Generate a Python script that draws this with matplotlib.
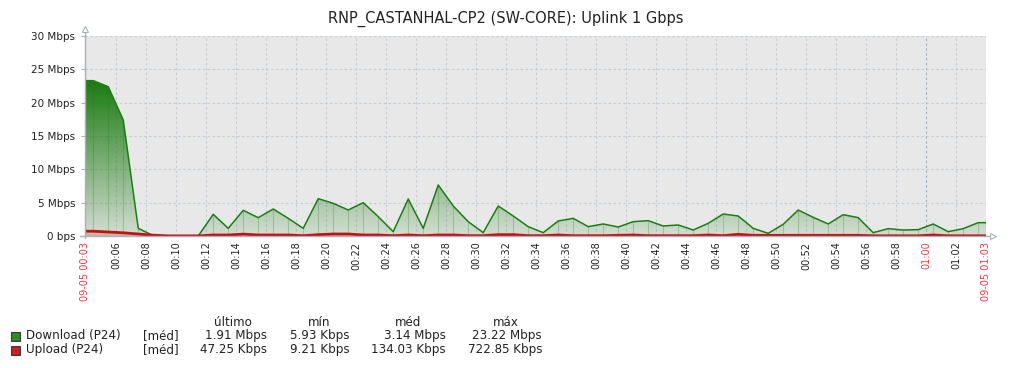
import numpy as np
import matplotlib.pyplot as plt
from matplotlib.patches import Rectangle

# time axis in minutes after 00:00 (09-05)
t_start = 3.9
t_end = 63.97
first_sample = 4.45

# Mbps, one sample per minute
download = [23.3, 22.4, 17.4, 1.15, 0.05, 0.0, 0.0, 0.0, 3.25, 1.15,
            3.85, 2.75, 4.05, 2.65, 1.15, 5.6, 4.9, 3.9, 5.0, 2.9,
            0.65, 5.55, 1.15, 7.65, 4.5, 2.15, 0.5, 4.5, 3.0, 1.4,
            0.5, 2.25, 2.65, 1.4, 1.8, 1.35, 2.15, 2.3, 1.5, 1.65,
            0.9, 1.9, 3.3, 3.0, 1.15, 0.4, 1.75, 3.9, 2.8, 1.8,
            3.2, 2.75, 0.5, 1.1, 0.9, 0.95, 1.8, 0.65, 1.1, 2.0]
upload = [0.72, 0.6, 0.48, 0.3, 0.12, 0.02, 0.02, 0.02, 0.15, 0.15,
          0.28, 0.15, 0.15, 0.15, 0.05, 0.2, 0.3, 0.3, 0.15, 0.15,
          0.05, 0.15, 0.05, 0.15, 0.15, 0.05, 0.05, 0.2, 0.2, 0.05,
          0.05, 0.15, 0.05, 0.05, 0.05, 0.1, 0.15, 0.05, 0.05, 0.05,
          0.05, 0.15, 0.05, 0.25, 0.1, 0.1, 0.1, 0.1, 0.1, 0.1,
          0.1, 0.1, 0.03, 0.03, 0.03, 0.03, 0.15, 0.03, 0.03, 0.03]

ytick_vals = [0, 5, 10, 15, 20, 25, 30]
ytick_labels = ['0 bps', '5 Mbps', '10 Mbps', '15 Mbps', '20 Mbps', '25 Mbps', '30 Mbps']

title = 'RNP_CASTANHAL-CP2 (SW-CORE): Uplink 1 Gbps'
legend_names = ['Download (P24)', 'Upload (P24)']
legend_cols = ['último', 'mín', 'méd', 'máx']
legend_vals = [['1.91 Mbps', '5.93 Kbps', '3.14 Mbps', '23.22 Mbps'],
               ['47.25 Kbps', '9.21 Kbps', '134.03 Kbps', '722.85 Kbps']]

green = '#1a7f10'
red = '#c4100f'
label_red = '#ee3b3f'
txt = '#222222'
axis_col = '#a9b2bb'
grid_col = '#c3ccd5'

W, H = 1016, 368
fig = plt.figure(figsize=(W / 100, H / 100), dpi=100)
ax = fig.add_axes([85 / W, (H - 236) / H, 901 / W, 200 / H])
ax.set_facecolor('#e8e8e8')

t = first_sample + np.arange(len(download))
tx = np.concatenate([[t_start], t, [t_end]])
dl = np.concatenate([[download[0]], download, [download[-1]]])
ul = np.concatenate([[upload[0]], upload, [upload[-1]]])

# gradient fill under download
poly = ax.fill_between(tx, dl, 0, facecolor='none', edgecolor='none')
top = max(download)
n = 256
grad = np.zeros((n, 1, 4))
grad[:, 0, 0] = 0.10
grad[:, 0, 1] = 0.48
grad[:, 0, 2] = 0.06
grad[:, 0, 3] = np.linspace(1.0, 0.1, n)
im = ax.imshow(grad, extent=[t_start, t_end, 0, top], aspect='auto',
               origin='upper', zorder=2, interpolation='bilinear')
im.set_clip_path(poly.get_paths()[0], transform=ax.transData)

ax.vlines(t, 0, download, color=green, alpha=0.25, lw=0.8, zorder=3)
ax.plot(tx, dl, color=green, lw=1.1, zorder=4)

ax.fill_between(tx, ul, 0, color='#cab3a7', lw=0, zorder=4)
ax.plot(tx, ul, color=red, lw=2.0, zorder=5, solid_capstyle='butt')

ax.set_xlim(t_start, t_end)
ax.set_ylim(0, 30)

# x ticks
xt = [t_start] + list(range(6, 63, 2)) + [t_end]
xl = ['09-05 00:03'] + ['%02d:%02d' % (m // 60, m % 60) for m in range(6, 63, 2)] + ['09-05 01:03']
ax.set_xticks(xt)
ax.set_xticklabels(xl, rotation=90, fontsize=7, color=txt, va='top', ha='center')
for lab in ax.get_xticklabels():
    if lab.get_text() in ('09-05 00:03', '01:00', '09-05 01:03'):
        lab.set_color(label_red)
ax.tick_params(axis='x', length=0, pad=4)

ax.set_yticks(ytick_vals)
ax.set_yticklabels(ytick_labels, fontsize=7.5, color=txt)
ax.tick_params(axis='y', length=3, color=axis_col, pad=4)

ax.grid(True, color=grid_col, linestyle=(0, (2.2, 2.2)), lw=0.8, zorder=1)
for tick_pos, gl in zip(xt, ax.get_xgridlines()):
    if tick_pos == 60:
        gl.set_color('#9fafbf')
ax.set_axisbelow(True)

for s in ax.spines.values():
    s.set_visible(False)

# axis lines with arrows
ax.plot([0, 0], [-0.01, 1.03], color=axis_col, lw=1, transform=ax.transAxes, clip_on=False, zorder=6)
ax.plot([-0.005, 1.004], [0, 0], color=axis_col, lw=1, transform=ax.transAxes, clip_on=False, zorder=6)
ax.plot([0], [1.035], marker='^', ms=5, mfc='white', mec=axis_col, mew=0.8,
        transform=ax.transAxes, clip_on=False, zorder=6)
ax.plot([1.008], [0], marker='>', ms=5, mfc='white', mec=axis_col, mew=0.8,
        transform=ax.transAxes, clip_on=False, zorder=6)

fig.text(506 / W, 1 - 19 / H, title, ha='center', va='center', fontsize=10.5, color=txt)

# legend table
col_center = [233, 319, 408, 506]
col_right = [267, 350, 446, 542]
for c, name in zip(col_center, legend_cols):
    fig.text(c / W, 1 - 322 / H, name, ha='center', va='center', fontsize=8.6, color=txt)
row_y = [336, 350]
for i, (name, color) in enumerate(zip(legend_names, ['#2d8c2a', '#c81e1e'])):
    y = row_y[i]
    fig.patches.append(Rectangle((11 / W, 1 - (y + 5) / H), 9 / W, 9 / H, facecolor=color,
                                 edgecolor='#333333', lw=0.7, transform=fig.transFigure))
    fig.text(26 / W, 1 - y / H, name, ha='left', va='center', fontsize=8.6, color=txt)
    fig.text(143 / W, 1 - y / H, '[méd]', ha='left', va='center', fontsize=8.6, color=txt)
    for r, v in zip(col_right, legend_vals[i]):
        fig.text(r / W, 1 - y / H, v, ha='right', va='center', fontsize=8.6, color=txt)

fig.savefig('out.png', dpi=100)
